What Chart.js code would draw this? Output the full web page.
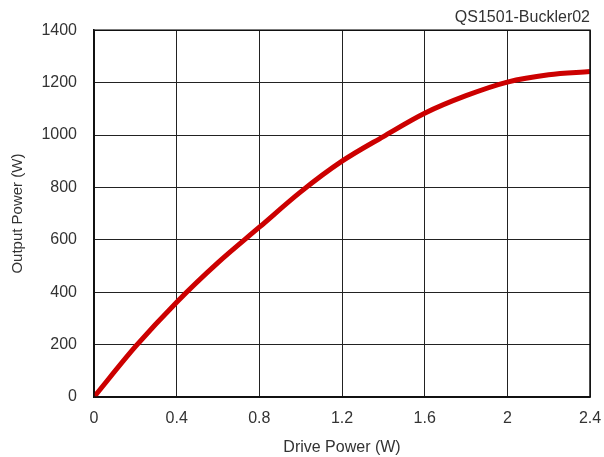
<!DOCTYPE html>
<html>
<head>
<meta charset="utf-8">
<script src="https://cdn.jsdelivr.net/npm/chart.js@4"></script>
<style>
  html, body { margin: 0; padding: 0; background: #fff; }
  #wrap { width: 604px; height: 457px; }
</style>
</head>
<body>
<div id="wrap"><canvas id="power-chart"></canvas></div>
<script>
// Drive power (W) vs output power (W)
const drivePower = [0, 0.2, 0.4, 0.6, 0.8, 1.0, 1.2, 1.4, 1.6, 1.8, 2.0, 2.2, 2.4];
const outputPower = [0, 192, 362, 513, 648, 783, 900, 994, 1083, 1150, 1202, 1230, 1242];
const xTicks = [0, 0.4, 0.8, 1.2, 1.6, 2, 2.4];
const yTicks = [0, 200, 400, 600, 800, 1000, 1200, 1400];

const textColor = '#333';
const family = "'Liberation Sans', Arial, sans-serif";
const font = {family: family, size: 16, weight: 'normal'};

new Chart(document.getElementById('power-chart'), {
  type: 'line',
  data: {
    datasets: [{
      label: 'QS1501-Buckler02',
      data: drivePower.map((x, i) => ({x: x, y: outputPower[i]})),
      borderColor: 'rgb(204, 0, 0)',
      borderWidth: 5,
      pointRadius: 0,
      cubicInterpolationMode: 'monotone',
      fill: false
    }]
  },
  options: {
    responsive: true,
    maintainAspectRatio: false,
    animation: {duration: 0},
    layout: {padding: {left: 0, right: 14, top: 0, bottom: 0}},
    plugins: {
      legend: {display: false},
      tooltip: {enabled: false},
      title: {
        display: true,
        text: 'QS1501-Buckler02',
        align: 'end',
        color: textColor,
        font: font,
        padding: {top: 8, bottom: 3}
      }
    },
    scales: {
      x: {
        type: 'linear',
        min: 0,
        max: 2.4,
        afterBuildTicks: scale => { scale.ticks = xTicks.map(v => ({value: v})); },
        afterFit: scale => {
          scale.height = 60;
          scale.paddingLeft = 0;
          scale.paddingRight = 0;
        },
        grid: {color: '#222', lineWidth: 1, drawTicks: false},
        border: {color: '#111', width: 1.5},
        ticks: {
          color: textColor,
          font: font,
          padding: 12,
          maxRotation: 0,
          callback: v => String(Number(v.toFixed(1)))
        },
        title: {
          display: true,
          text: 'Drive Power (W)',
          color: textColor,
          font: font,
          padding: {top: 7, bottom: 0}
        }
      },
      y: {
        min: 0,
        max: 1400,
        afterBuildTicks: scale => { scale.ticks = yTicks.map(v => ({value: v})); },
        afterFit: scale => { scale.width = 94; },
        grid: {color: '#222', lineWidth: 1, drawTicks: false},
        border: {color: '#111', width: 1.5},
        ticks: {color: textColor, font: font, padding: 17, callback: v => String(v)},
        title: {
          display: true,
          text: 'Output Power (W)',
          color: textColor,
          font: {family: family, size: 15, weight: 'normal'},
          padding: {top: 9, bottom: 0}
        }
      }
    }
  },
  plugins: [{
    id: 'whiteBg',
    beforeDraw: chart => {
      const ctx = chart.ctx;
      ctx.save();
      ctx.fillStyle = '#fff';
      ctx.fillRect(0, 0, chart.width, chart.height);
      ctx.restore();
    }
  }, {
    id: 'frame',
    afterDatasetsDraw: chart => {
      const a = chart.chartArea, ctx = chart.ctx;
      ctx.save();
      ctx.strokeStyle = '#111';
      ctx.lineWidth = 1.5;
      ctx.strokeRect(a.left, a.top, a.right - a.left, a.bottom - a.top);
      ctx.restore();
    }
  }]
});
</script>
</body>
</html>
